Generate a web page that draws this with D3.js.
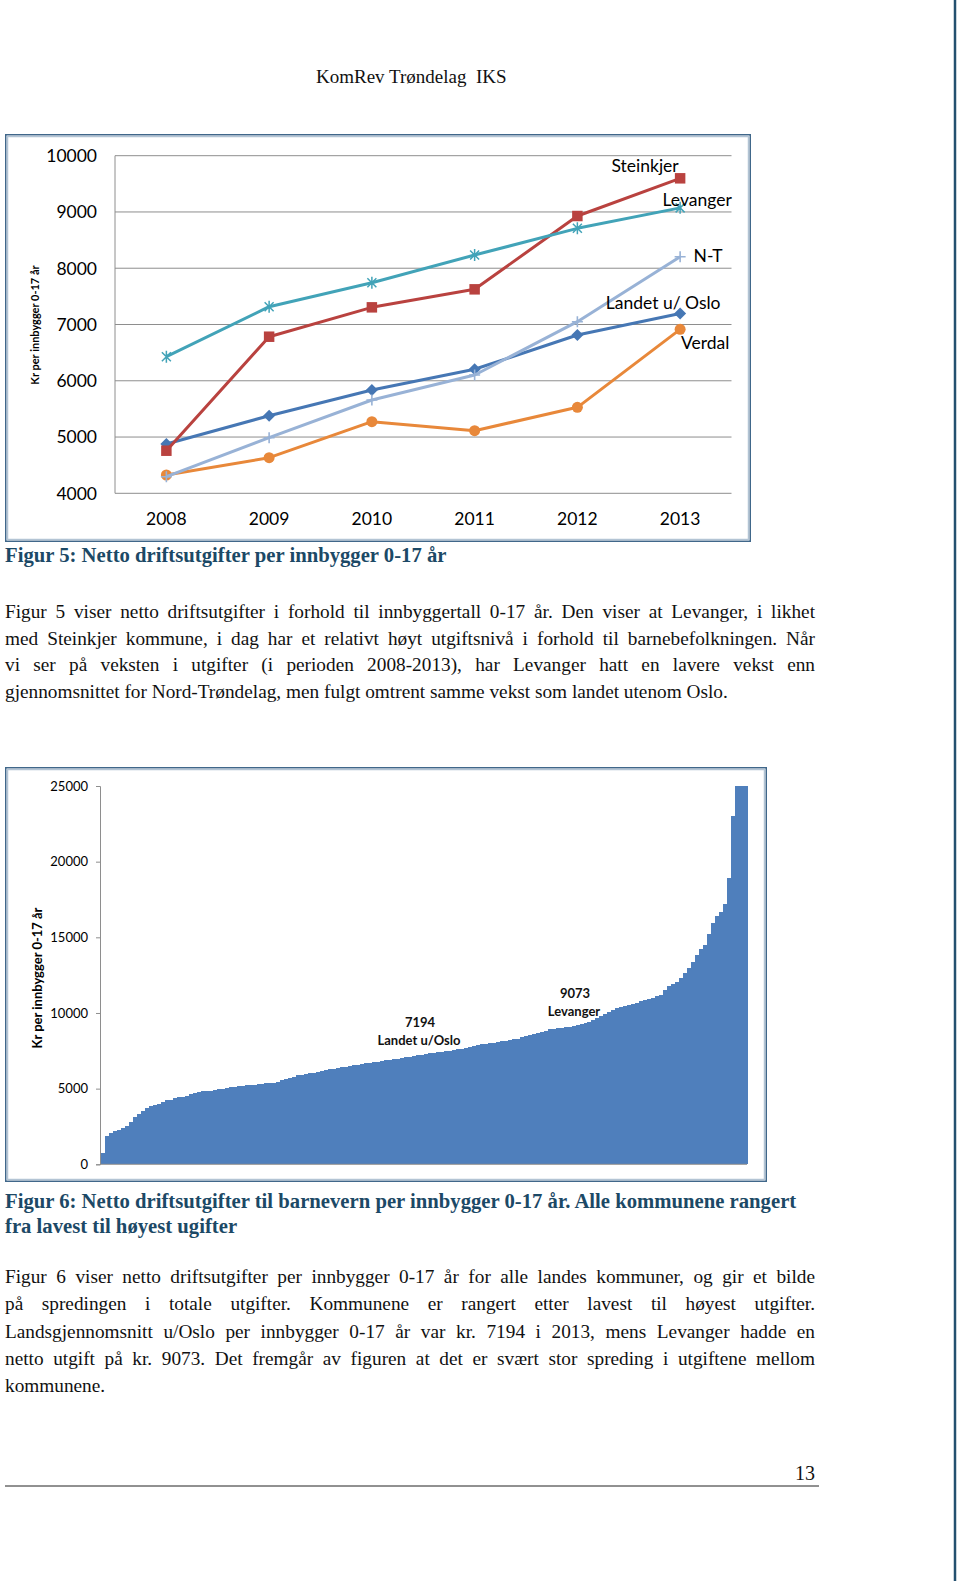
<!DOCTYPE html>
<html><head><meta charset="utf-8">
<script src="https://cdn.jsdelivr.net/npm/d3@7"></script>
<style>body{margin:0;background:#fff}svg{display:block}</style>
</head><body>
<svg id="page" width="960" height="1581"></svg>
<script>
// ---------- DATA ----------
const years = ["2008", "2009", "2010", "2011", "2012", "2013"];
const seriesNames = ["Landet u/ Oslo", "Steinkjer", "Verdal", "N-T", "Levanger"];
const landet    = [4876, 5379, 5836, 6204, 6813, 7194];
const steinkjer = [4757, 6783, 7305, 7625, 8928, 9598];
const verdal    = [4325, 4633, 5273, 5113, 5528, 6914];
const nt        = [4295, 4988, 5658, 6102, 7050, 8205];
const levanger  = [6428, 7316, 7743, 8235, 8709, 9073];
const yTicks1 = [4000, 5000, 6000, 7000, 8000, 9000, 10000];

// netto driftsutgifter per kommune, sortert (lest fra figuren)
const kommuneValues = [
  770, 1850, 2100, 2200, 2260, 2420, 2560, 2780, 3100, 3350,
  3500, 3700, 3830, 3900, 3980, 4150, 4220, 4280, 4350, 4420,
  4480, 4540, 4620, 4690, 4760, 4820, 4850, 4870, 4920, 4970,
  5000, 5040, 5100, 5140, 5160, 5190, 5210, 5240, 5260, 5290,
  5320, 5350, 5380, 5400, 5470, 5600, 5660, 5720, 5790, 5880,
  5930, 5960, 6010, 6060, 6110, 6160, 6210, 6270, 6320, 6360,
  6400, 6440, 6490, 6530, 6580, 6620, 6670, 6700, 6740, 6780,
  6820, 6860, 6900, 6940, 6990, 7030, 7070, 7110, 7160, 7200,
  7250, 7290, 7340, 7380, 7420, 7450, 7490, 7520, 7560, 7600,
  7630, 7670, 7730, 7800, 7870, 7920, 7960, 8000, 8040, 8090,
  8130, 8170, 8210, 8260, 8310, 8380, 8450, 8530, 8620, 8700,
  8770, 8840, 8910, 8960, 9000, 9030, 9070, 9100, 9150, 9200,
  9260, 9320, 9420, 9540, 9680, 9820, 9950, 10080, 10210, 10330,
  10400, 10460, 10530, 10610, 10690, 10770, 10850, 10930, 11010, 11090,
  11190, 11500, 11780, 11930, 12080, 12300, 12640, 13000, 13350, 13850,
  14200, 14520, 15200, 15950, 16400, 16680, 17180, 18900, 23000, 25000,
  25000, 25000
];
const yTicks2 = [0, 5000, 10000, 15000, 20000, 25000];

const headerText = "KomRev Trøndelag  IKS";
const caption5 = "Figur 5: Netto driftsutgifter per innbygger 0-17 år";
const para1 = [
  "Figur 5 viser netto driftsutgifter i forhold til innbyggertall 0-17 år. Den viser at Levanger, i likhet",
  "med Steinkjer kommune, i dag har et relativt høyt utgiftsnivå i forhold til barnebefolkningen. Når",
  "vi ser på veksten i utgifter (i perioden 2008-2013), har Levanger hatt en lavere vekst enn",
  "gjennomsnittet for Nord-Trøndelag, men fulgt omtrent samme vekst som landet utenom Oslo."
];
const caption6 = [
  "Figur 6: Netto driftsutgifter til barnevern per innbygger 0-17 år. Alle kommunene rangert",
  "fra lavest til høyest ugifter"
];
const para2 = [
  "Figur 6 viser netto driftsutgifter per innbygger 0-17 år for alle landes kommuner, og gir et bilde",
  "på spredingen i totale utgifter. Kommunene er rangert etter lavest til høyest utgifter.",
  "Landsgjennomsnitt u/Oslo per innbygger 0-17 år var kr. 7194 i 2013, mens Levanger hadde en",
  "netto utgift på kr. 9073. Det fremgår av figuren at det er svært stor spreding i utgiftene mellom",
  "kommunene."
];
const pageNumber = "13";

// ---------- PAGE ----------
const svg = d3.select("#page");
const serif = "'Liberation Serif','Times New Roman',serif";
const sans = "Lato, 'Open Sans', sans-serif";
const captionColor = "#1c4966";

// right page border
svg.append("line").attr("x1", 955).attr("x2", 955).attr("y1", 0).attr("y2", 1581)
  .attr("stroke", "#24506f").attr("stroke-width", 2.5);

svg.append("text").attr("x", 316).attr("y", 83).attr("font-family", serif)
  .attr("font-size", 19).attr("fill", "#111").style("white-space", "pre").text(headerText);

function frame(x0, y0, x1, y1) {
  svg.append("rect").attr("x", x0 + 0.75).attr("y", y0 + 0.75)
    .attr("width", x1 - x0 - 1.5).attr("height", y1 - y0 - 1.5)
    .attr("fill", "#fff").attr("stroke", "#40678a").attr("stroke-width", 1.5);
  svg.append("rect").attr("x", x0 + 2.5).attr("y", y0 + 2.5)
    .attr("width", x1 - x0 - 5).attr("height", y1 - y0 - 5)
    .attr("fill", "none").attr("stroke", "#b3c4d4").attr("stroke-width", 1.5);
}

// ---------- CHART 1 ----------
frame(5, 134, 751, 542);
const x1 = d3.scalePoint().domain(years).range([115, 731.5]).padding(0.5);
const y1 = d3.scaleLinear().domain([4000, 10000]).range([493.3, 155.7]);
const g1 = svg.append("g");
g1.selectAll("line.grid").data(yTicks1).join("line")
  .attr("x1", 115).attr("x2", 731.5)
  .attr("y1", d => y1(d)).attr("y2", d => y1(d))
  .attr("stroke", "#8e8e8e").attr("stroke-width", 1);
g1.append("line").attr("x1", 115).attr("x2", 115).attr("y1", y1(10000)).attr("y2", y1(4000))
  .attr("stroke", "#8e8e8e").attr("stroke-width", 1);
g1.selectAll("text.yt").data(yTicks1).join("text")
  .attr("x", 97).attr("y", d => y1(d)).attr("dy", "0.36em")
  .attr("text-anchor", "end").attr("font-family", sans).attr("font-size", 17.5).attr("fill", "#000")
  .text(d => d);
g1.selectAll("text.xt").data(years).join("text")
  .attr("x", d => x1(d)).attr("y", 525)
  .attr("text-anchor", "middle").attr("font-family", sans).attr("font-size", 17.5).attr("fill", "#000")
  .text(d => d);
g1.append("text").attr("transform", "translate(39,325) rotate(-90)")
  .attr("text-anchor", "middle").attr("font-family", sans).attr("font-weight", "bold")
  .attr("font-size", 11).text("Kr per innbygger 0-17 år");

const seriesVals = [landet, steinkjer, verdal, nt, levanger];
const seriesColors = ["#4677b4", "#b9423f", "#e8883a", "#98b2d6", "#42a3b8"];
const markerTypes = ["diamond", "square", "circle", "plus", "star"];
const line1 = d3.line().x((d, i) => x1(years[i])).y(d => y1(d));

seriesVals.forEach((vals, s) => {
  const col = seriesColors[s];
  g1.append("path").attr("d", line1(vals)).attr("fill", "none")
    .attr("stroke", col).attr("stroke-width", 3).attr("stroke-linejoin", "round");
  const mg = g1.append("g");
  vals.forEach((v, i) => {
    const tx = `translate(${x1(years[i])},${y1(v)})`;
    const t = markerTypes[s];
    if (t === "diamond") mg.append("path").attr("d", "M0,-6L6,0L0,6L-6,0Z").attr("transform", tx).attr("fill", col);
    else if (t === "square") mg.append("path").attr("d", d3.symbol(d3.symbolSquare, 110)()).attr("transform", tx).attr("fill", col);
    else if (t === "circle") mg.append("path").attr("d", d3.symbol(d3.symbolCircle, 95)()).attr("transform", tx).attr("fill", col);
    else if (t === "plus") mg.append("path").attr("d", "M-5.5,0H5.5M0,-5.5V5.5").attr("transform", tx).attr("stroke", col).attr("stroke-width", 1.6);
    else mg.append("path").attr("d", "M-4.5,-4.5L4.5,4.5M-4.5,4.5L4.5,-4.5M0,-6V6").attr("transform", tx).attr("stroke", col).attr("stroke-width", 1.5);
  });
});
// end labels
const last = years.length - 1;
const endLabel = (name, vals, dx, dy) => g1.append("text")
  .attr("x", x1(years[last]) + dx).attr("y", y1(vals[last]) + dy)
  .attr("text-anchor", "middle").attr("font-family", sans).attr("font-size", 17.5).attr("fill", "#000").text(name);
endLabel("Steinkjer", steinkjer, -35, -6.5);
endLabel("Levanger", levanger, 17, -2);
endLabel("N-T", nt, 28, 5.5);
endLabel("Landet u/ Oslo", landet, -17, -4.5);
endLabel("Verdal", verdal, 25, 20);

// ---------- CAPTION + PARAGRAPH 1 ----------
const justifyRight = 815, leftX = 5;
function textLines(lines, y0, step, opts) {
  lines.forEach((t, i) => {
    const el = svg.append("text").attr("x", leftX).attr("y", y0 + i * step)
      .attr("font-family", serif).attr("font-size", opts.size)
      .attr("font-weight", opts.bold ? "bold" : "normal")
      .attr("fill", opts.color).text(t);
    if (opts.justify && i < lines.length - 1) {
      const nat = el.node().getComputedTextLength();
      const spaces = (t.match(/ /g) || []).length;
      if (spaces) el.style("word-spacing", ((justifyRight - leftX - nat) / spaces) + "px");
    }
  });
}
textLines([caption5], 562, 0, {size: 20.7, bold: true, color: captionColor});
textLines(para1, 618, 26.6, {size: 19.3, justify: true, color: "#111"});

// ---------- CHART 2 ----------
frame(5, 767, 767, 1182);
const x2 = d3.scaleBand().domain(kommuneValues.map((d, i) => i)).range([101, 747]).padding(0);
const y2 = d3.scaleLinear().domain([0, 25000]).range([1164.3, 786]);
const g2 = svg.append("g");
g2.selectAll("rect.bar").data(kommuneValues).join("rect")
  .attr("x", (d, i) => x2(i)).attr("width", x2.bandwidth() + 0.6)
  .attr("y", d => y2(d)).attr("height", d => y2(0) - y2(d))
  .attr("fill", "#4f7fbc").attr("shape-rendering", "crispEdges");
g2.append("line").attr("x1", 100).attr("x2", 747).attr("y1", y2(0)).attr("y2", y2(0))
  .attr("stroke", "#8e8e8e");
const yAxis2 = g2.append("g").attr("transform", "translate(100,0)")
  .call(d3.axisLeft(y2).tickValues(yTicks2).tickSize(4).tickPadding(8).tickFormat(d3.format("d")));
yAxis2.select(".domain").attr("stroke", "#8e8e8e");
yAxis2.selectAll(".tick line").attr("stroke", "#8e8e8e");
yAxis2.selectAll(".tick text").attr("font-family", sans).attr("font-size", 13).attr("fill", "#000");
g2.append("text").attr("transform", "translate(42,978) rotate(-90)")
  .attr("text-anchor", "middle").attr("font-family", sans).attr("font-weight", "bold")
  .attr("font-size", 13).text("Kr per innbygger 0-17 år");
const ann = (x, y, t) => g2.append("text").attr("x", x).attr("y", y).attr("text-anchor", "middle")
  .attr("font-family", sans).attr("font-weight", "bold").attr("font-size", 13).attr("fill", "#111").text(t);
ann(420, 1026.5, "7194");
ann(419, 1044.5, "Landet u/Oslo");
ann(575, 998, "9073");
ann(574, 1015.5, "Levanger");

// ---------- CAPTION 6 + PARAGRAPH 2 ----------
textLines(caption6, 1208, 24.5, {size: 20.7, bold: true, color: captionColor});
textLines(para2, 1283, 27.3, {size: 19.3, justify: true, color: "#111"});

// page number
svg.append("text").attr("x", 815).attr("y", 1480).attr("text-anchor", "end")
  .attr("font-family", serif).attr("font-size", 20).attr("fill", "#111").text(pageNumber);
svg.append("line").attr("x1", 5).attr("x2", 819).attr("y1", 1486).attr("y2", 1486)
  .attr("stroke", "#222").attr("stroke-width", 1);
</script>
</body></html>
